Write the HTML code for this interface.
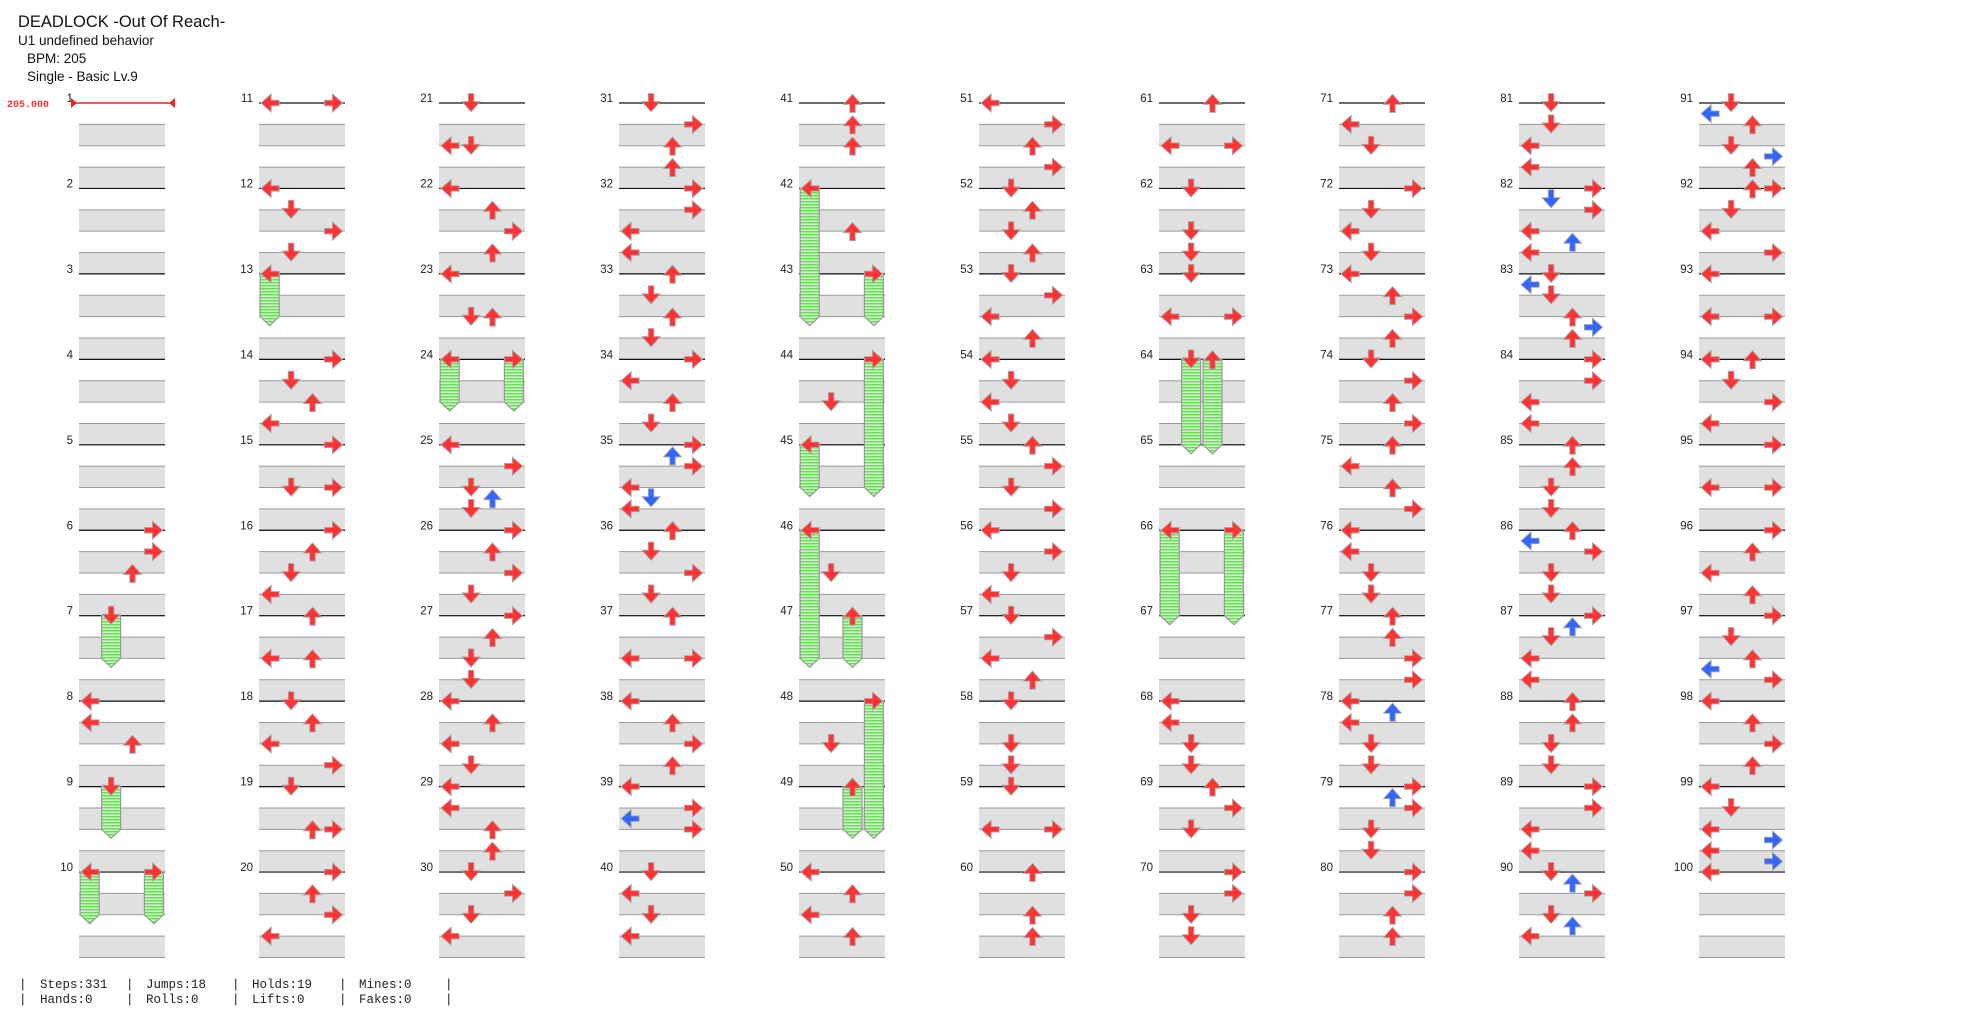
<!DOCTYPE html>
<html><head><meta charset="utf-8"><title>DEADLOCK -Out Of Reach- chart</title>
<style>
html,body{margin:0;padding:0;background:#fff;}
svg{display:block;}
.t{font-family:"Liberation Sans",sans-serif;fill:#111;}
.m{font-family:"Liberation Mono",monospace;fill:#222;font-size:12.5px;}
</style></head>
<body>
<svg id="chart" width="1975" height="1024" viewBox="0 0 1975 1024" xmlns="http://www.w3.org/2000/svg">
<defs>
<pattern id="holdStripe" width="4" height="3" patternUnits="userSpaceOnUse">
<rect width="4" height="3" fill="#c8f5c0"/><rect width="4" height="1.4" fill="#66dd55"/>
</pattern>
</defs>
<text class="t" x="18" y="27" font-size="16.5">DEADLOCK -Out Of Reach-</text>
<text class="t" x="18" y="45" font-size="13.5">U1 undefined behavior</text>
<text class="t" x="27" y="63" font-size="13.5">BPM: 205</text>
<text class="t" x="27" y="81" font-size="13.5">Single - Basic  Lv.9</text>
<text x="7" y="107" font-family="Liberation Mono, monospace" font-size="10" font-weight="bold" fill="#ff3333">205.000</text>
<g id="grid"></g>
<g id="holds"></g>
<g id="notes"></g>
<g id="bpm">
<line x1="73" y1="103" x2="173" y2="103" stroke="#ee2222" stroke-width="1.5"/>
<polygon points="71,98 77,103 71,108" fill="#ee2222"/>
<polygon points="175,98 169,103 175,108" fill="#ee2222"/>
</g>
<g>
<text class="m" x="19" y="988">|</text><text class="m" x="19" y="1003">|</text>
<text class="m" x="40" y="988">Steps:331</text>
<text class="m" x="40" y="1003">Hands:0</text>
<text class="m" x="126" y="988">|</text><text class="m" x="126" y="1003">|</text>
<text class="m" x="146" y="988">Jumps:18</text>
<text class="m" x="146" y="1003">Rolls:0</text>
<text class="m" x="232" y="988">|</text><text class="m" x="232" y="1003">|</text>
<text class="m" x="252" y="988">Holds:19</text>
<text class="m" x="252" y="1003">Lifts:0</text>
<text class="m" x="339" y="988">|</text><text class="m" x="339" y="1003">|</text>
<text class="m" x="359" y="988">Mines:0</text>
<text class="m" x="359" y="1003">Fakes:0</text>
<text class="m" x="445" y="988">|</text><text class="m" x="445" y="1003">|</text>
</g>
</svg>
<script>
// Each measure: "beat:lanes" tokens; lane letter optionally followed by ~holdBeats
const measures = [
"", "", "", "", "", "0:R 1:R 2:U", "0:D~2", "0:L 1:L 2:U", "0:D~2", "0:L~2R~2",
"0:LR", "0:L 1:D 2:R 3:D", "0:L~2", "0:R 1:D 2:U 3:L", "0:R 2:DR", "0:R 1:U 2:D 3:L", "0:U 2:LU", "0:D 1:U 2:L 3:R", "0:D 2:UR", "0:R 1:U 2:R 3:L",
"0:D 2:LD", "0:L 1:U 2:R 3:U", "0:L 2:DU", "0:L~2R~2", "0:L 1:R 2:D 2.5:U 3:D", "0:R 1:U 2:R 3:D", "0:R 1:U 2:D 3:D", "0:L 1:U 2:L 3:D", "0:L 1:L 2:U 3:U", "0:D 1:R 2:D 3:L",
"0:D 1:R 2:U 3:U", "0:R 1:R 2:L 3:L", "0:U 1:D 2:U 3:D", "0:R 1:L 2:U 3:D", "0:R 0.5:U 1:R 2:L 2.5:D 3:L", "0:U 1:D 2:R 3:D", "0:U 2:LR", "0:L 1:U 2:R 3:U", "0:L 1:R 1.5:L 2:R", "0:D 1:L 2:D 3:L",
"0:U 1:U 2:U", "0:L~6 2:U", "0:R~2", "0:R~6 2:D", "0:L~2", "0:L~6 2:D", "0:U~2", "0:R~6 2:D", "0:U~2", "0:L 1:U 2:L 3:U",
"0:L 1:R 2:U 3:R", "0:D 1:U 2:D 3:U", "0:D 1:R 2:L 3:U", "0:L 1:D 2:L 3:D", "0:U 1:R 2:D 3:R", "0:L 1:R 2:D 3:L", "0:D 1:R 2:L 3:U", "0:D 2:D 3:D", "0:D 2:LR", "0:U 2:U 3:U",
"0:U 2:LR", "0:D 2:D 3:D", "0:D 2:LR", "0:D~4U~4", "", "0:L~4R~4", "", "0:L 1:L 2:D 3:D", "0:U 1:R 2:D", "0:R 1:R 2:D 3:D",
"0:U 1:L 2:D", "0:R 1:D 2:L 3:D", "0:L 1:U 2:R 3:U", "0:D 1:R 2:U 3:R", "0:U 1:L 2:U 3:R", "0:L 1:L 2:D 3:D", "0:U 1:U 2:R 3:R", "0:L 0.5:U 1:L 2:D 3:D", "0:R 0.5:U 1:R 2:D 3:D", "0:R 1:R 2:U 3:U",
"0:D 1:D 2:L 3:L", "0:R 0.5:D 1:R 2:L 2.5:U 3:L", "0:D 0.5:L 1:D 2:U 2.5:R 3:U", "0:R 1:R 2:L 3:L", "0:U 1:U 2:D 3:D", "0:U 0.5:L 1:R 2:D 3:D", "0:R 0.5:U 1:D 2:L 3:L", "0:U 1:U 2:D 3:D", "0:R 1:R 2:L 3:L", "0:D 0.5:U 1:R 2:D 2.5:U 3:L",
"0:D 0.5:L 1:U 2:D 2.5:R 3:U", "0:UR 1:D 2:L 3:R", "0:L 2:LR", "0:LU 1:D 2:R 3:L", "0:R 2:LR", "0:R 1:U 2:L 3:U", "0:R 1:D 2:U 2.5:L 3:R", "0:L 1:U 2:R 3:U", "0:L 1:D 2:L 2.5:R 3:L 3.5:R", "0:L"
];
const laneNames = ["L", "D", "U", "R"];
const laneTitles = ["left", "down", "up", "right"];

const NS = "http://www.w3.org/2000/svg";
const COL0 = 79, COLW = 180, TOP = 103, MH = 85.45, BEAT = MH / 4, WID = 86;
function colX(m) { return COL0 + Math.floor((m - 1) / 10) * COLW; }
function measureY(m) { return TOP + ((m - 1) % 10) * MH; }
function beatY(m, b) { return measureY(m) + b * BEAT; }
function laneX(m, l) { return colX(m) + 10.7 + l * 21.4; }
function mk(tag, attrs, parent) {
  const e = document.createElementNS(NS, tag);
  for (const k in attrs) e.setAttribute(k, attrs[k]);
  parent.appendChild(e);
  return e;
}
const grid = document.getElementById('grid');
const holdsG = document.getElementById('holds');
const notesG = document.getElementById('notes');

for (let m = 1; m <= measures.length; m++) {
  const x = colX(m), y = measureY(m);
  const g = mk('g', {}, grid);
  
  
  for (const b of [1, 3]) {
    const r = mk('rect', {x: x, y: y + b * BEAT, width: WID, height: BEAT, fill: '#e0e0e0'}, g);
    
    
    mk('line', {x1: x, x2: x + WID, y1: y + b * BEAT, y2: y + b * BEAT, stroke: '#9a9a9a', 'stroke-width': 1}, g);
    mk('line', {x1: x, x2: x + WID, y1: y + (b + 1) * BEAT, y2: y + (b + 1) * BEAT, stroke: '#9a9a9a', 'stroke-width': 1}, g);
  }
  if (m !== 1) {
    const ln = mk('line', {x1: x, x2: x + WID, y1: y, y2: y, stroke: '#111', 'stroke-width': 1.2}, g);
    
    
  }
  const t = mk('text', {x: x - 6, y: y - 1, 'text-anchor': 'end', 'font-size': 11.5, 'font-family': 'Liberation Sans, sans-serif', fill: '#222'}, g);
  
  
  t.textContent = String(m);
}

const ARROW = "M-2.3,-9 L2.3,-9 L2.3,-1 L8,-1 L0,8 L-8,-1 L-2.3,-1 Z";
const ROT = [90, 0, 180, -90];

for (let m = 1; m <= measures.length; m++) {
  const s = measures[m - 1].trim();
  if (!s) continue;
  for (const tok of s.split(/\s+/)) {
    const [bs, lanes] = tok.split(':');
    const b = parseFloat(bs);
    const re = /([LDUR])(?:~(\d+(?:\.\d+)?))?/g;
    let mm;
    while ((mm = re.exec(lanes))) {
      const l = laneNames.indexOf(mm[1]);
      const cx = laneX(m, l), cy = beatY(m, b);
      if (mm[2]) {
        const len = parseFloat(mm[2]) * BEAT;
        const h = mk('path', {d: `M${cx - 9.5},${cy} L${cx + 9.5},${cy} L${cx + 9.5},${cy + len} L${cx},${cy + len + 9} L${cx - 9.5},${cy + len} Z`, fill: 'url(#holdStripe)', stroke: '#999', 'stroke-width': 1.2}, holdsG);
        
        
      }
      const blue = (b % 1) !== 0;
      const a = mk('path', {d: ARROW, transform: `translate(${cx},${cy}) rotate(${ROT[l]})`, fill: blue ? '#3366ff' : '#ff3333', stroke: '#a8a8a8', 'stroke-width': 1.8, 'stroke-linejoin': 'miter', 'paint-order': 'stroke'}, notesG);
      
      
    }
  }
}
</script>
</body></html>
